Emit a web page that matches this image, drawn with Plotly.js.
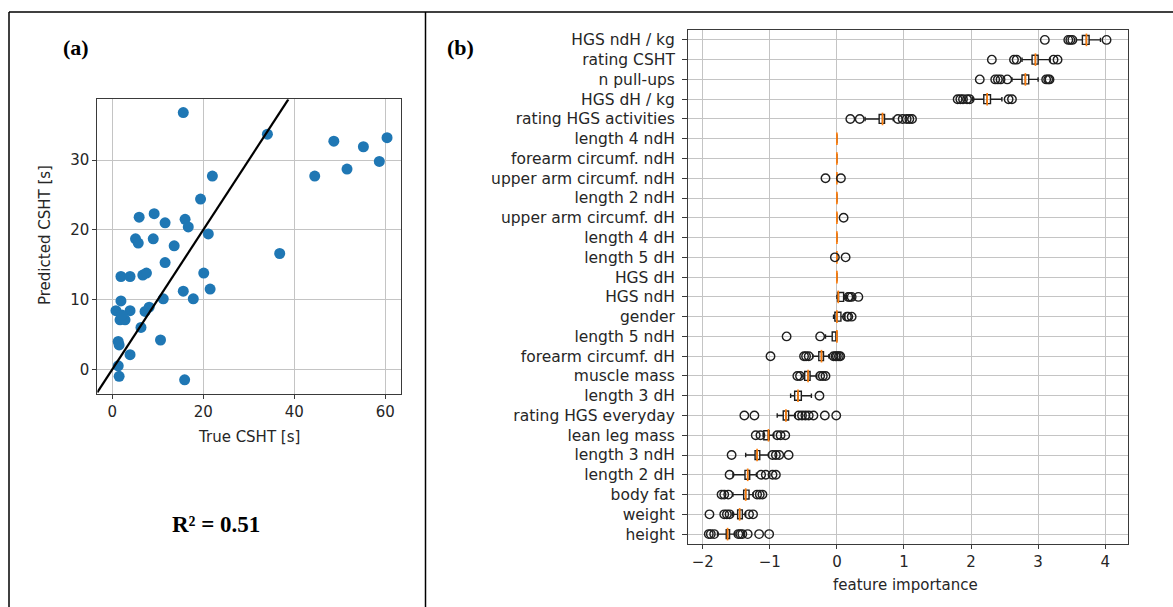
<!DOCTYPE html>
<html>
<head>
<meta charset="utf-8">
<script src="https://cdn.plot.ly/plotly-3.0.1.min.js"></script>
<style>
  html, body { margin: 0; padding: 0; background: #fff; }
  #chart { width: 1173px; height: 607px; }
</style>
</head>
<body>
<div id="chart"></div>
<script>
// ---------- Panel (a): true vs predicted CSHT ----------
const trueCSHT = [15.6, 34.1, 48.7, 60.4, 55.2, 58.7, 51.6, 44.5, 22.0, 19.4,
                  5.9, 9.2, 11.6, 16.0, 16.7, 21.1, 5.1, 5.7, 9.0, 13.6,
                  36.8, 11.6, 1.9, 3.9, 6.7, 7.5, 20.1, 15.6, 21.5, 17.8,
                  11.2, 1.9, 0.8, 3.9, 7.2, 8.1, 1.7, 2.8, 6.3, 1.3,
                  1.5, 10.6, 3.9, 1.3, 1.5, 15.9, 2.1];
const predictedCSHT = [36.8, 33.7, 32.7, 33.2, 31.9, 29.8, 28.7, 27.7, 27.7, 24.4,
                       21.8, 22.3, 21.0, 21.5, 20.4, 19.4, 18.7, 18.1, 18.7, 17.7,
                       16.6, 15.3, 13.3, 13.3, 13.5, 13.8, 13.8, 11.2, 11.5, 10.1,
                       10.1, 9.8, 8.4, 8.4, 8.3, 8.9, 7.1, 7.1, 6.0, 4.0,
                       3.5, 4.2, 2.1, 0.5, -1.0, -1.5, 7.8];
const identityLine = [-3.3, 38.7];
const r2Text = "R² = 0.51";

// ---------- Panel (b): permutation feature importance ----------
const features = ["HGS ndH / kg", "rating CSHT", "n pull-ups", "HGS dH / kg",
  "rating HGS activities", "length 4 ndH", "forearm circumf. ndH",
  "upper arm circumf. ndH", "length 2 ndH", "upper arm circumf. dH",
  "length 4 dH", "length 5 dH", "HGS dH", "HGS ndH", "gender", "length 5 ndH",
  "forearm circumf. dH", "muscle mass", "length 3 dH", "rating HGS everyday",
  "lean leg mass", "length 3 ndH", "length 2 dH", "body fat", "weight", "height"];
const q1Values     = [3.66, 2.91, 2.76, 2.19, 0.63, 0, 0, 0, 0, 0, 0, 0, 0, 0.01, -0.03, -0.07, -0.27, -0.48, -0.63, -0.80, -1.09, -1.22, -1.37, -1.39, -1.48, -1.65];
const medianValues = [3.72, 2.96, 2.81, 2.24, 0.68, 0, 0, 0, 0, 0, 0, 0, 0, 0.02, 0.0, 0, -0.23, -0.43, -0.58, -0.76, -1.02, -1.19, -1.33, -1.36, -1.45, -1.63];
const q3Values     = [3.76, 3.00, 2.86, 2.29, 0.71, 0, 0, 0, 0, 0, 0, 0, 0, 0.10, 0.06, 0, -0.20, -0.40, -0.53, -0.72, -1.01, -1.15, -1.30, -1.31, -1.41, -1.60];
const lowWhisker   = [3.57, 2.76, 2.61, 2.02, 0.42, 0, 0, 0, 0, 0, 0, 0, 0, 0.00, -0.05, -0.17, -0.36, -0.52, -0.69, -0.89, -1.10, -1.36, -1.55, -1.55, -1.56, -1.78];
const highWhisker  = [3.93, 3.18, 3.00, 2.46, 0.84, 0, 0, 0, 0, 0, 0, 0, 0, 0.14, 0.12, 0, -0.12, -0.30, -0.38, -0.62, -0.94, -1.02, -1.20, -1.25, -1.36, -1.52];
const outlierValues = [
  [3.10, 3.45, 3.48, 3.51, 4.02],
  [2.31, 2.64, 2.68, 3.23, 3.29],
  [2.13, 2.36, 2.40, 2.44, 2.54, 3.12, 3.15, 3.17],
  [1.80, 1.84, 1.88, 1.94, 1.98, 2.56, 2.61],
  [0.20, 0.34, 0.91, 0.98, 1.04, 1.08, 1.12],
  [],
  [],
  [-0.17, 0.06],
  [],
  [0.10],
  [],
  [-0.03, 0.13],
  [],
  [0.17, 0.19, 0.22, 0.32],
  [0.15, 0.17, 0.22],
  [-0.75, -0.25],
  [-0.99, -0.49, -0.46, -0.42, -0.05, -0.02, 0.0, 0.03, 0.05],
  [-0.59, -0.55, -0.25, -0.21, -0.17],
  [-0.26],
  [-1.38, -1.23, -0.57, -0.52, -0.47, -0.42, -0.35, -0.18, -0.01],
  [-1.21, -1.14, -0.89, -0.84, -0.77],
  [-1.57, -0.96, -0.91, -0.86, -0.72],
  [-1.60, -1.13, -1.06, -0.96, -0.91],
  [-1.72, -1.68, -1.62, -1.19, -1.15, -1.11],
  [-1.90, -1.68, -1.64, -1.60, -1.31, -1.25],
  [-1.91, -1.88, -1.83, -1.47, -1.44, -1.41, -1.33, -1.16, -1.01]
];

// ---------- geometry helpers (pixels -> paper) ----------
const W = 1173, H = 607;
const px = v => v / W;
const py = v => 1 - v / H;

const outX = [], outY = [];
outlierValues.forEach((arr, i) => arr.forEach(v => { outX.push(v); outY.push(features[i]); }));

const tickFont = { family: "DejaVu Sans, sans-serif", size: 15, color: "#262626" };
const catFont = { family: "DejaVu Sans, sans-serif", size: 15.5, color: "#262626" };
const gridColor = "#c4c4c4";
const spineColor = "#3a3a3a";

const traces = [
  {
    type: "scatter", mode: "markers", x: trueCSHT, y: predictedCSHT,
    xaxis: "x", yaxis: "y",
    marker: { color: "#1f77b4", size: 11, line: { width: 0 } },
    hoverinfo: "x+y", showlegend: false
  },
  {
    type: "scatter", mode: "lines", x: identityLine, y: identityLine,
    xaxis: "x", yaxis: "y",
    line: { color: "#000", width: 2.2 }, showlegend: false
  },
  {
    type: "box", orientation: "h", y: features,
    q1: q1Values, median: medianValues, q3: q3Values,
    lowerfence: lowWhisker, upperfence: highWhisker,
    xaxis: "x2", yaxis: "y2",
    boxpoints: false, width: 0.45, whiskerwidth: 0.5,
    fillcolor: "rgba(0,0,0,0)", line: { color: "#1e1e1e", width: 1.4 },
    showlegend: false
  },
  {
    type: "scatter", mode: "markers", x: medianValues, y: features,
    xaxis: "x2", yaxis: "y2",
    marker: { symbol: "line-ns-open", size: 9, color: "#ff7f0e", line: { color: "#ff7f0e", width: 1.7 } },
    showlegend: false, hoverinfo: "x+y"
  },
  {
    type: "scatter", mode: "markers", x: outX, y: outY,
    xaxis: "x2", yaxis: "y2",
    marker: { symbol: "circle-open", size: 8.5, color: "#1e1e1e", line: { color: "#1e1e1e", width: 1.4 } },
    showlegend: false, hoverinfo: "x+y"
  }
];

const layout = {
  width: W, height: H,
  margin: { l: 0, r: 0, t: 0, b: 0 },
  paper_bgcolor: "#fff", plot_bgcolor: "#fff",
  showlegend: false,
  xaxis: {
    domain: [px(97.3), px(400.7)], anchor: "y",
    range: [-3.3, 63.4], tickvals: [0, 20, 40, 60],
    showgrid: true, gridcolor: gridColor, gridwidth: 1, zeroline: false,
    showline: true, linecolor: spineColor, linewidth: 1, mirror: true,
    ticks: "outside", ticklen: 4, tickcolor: spineColor, tickfont: tickFont
  },
  yaxis: {
    domain: [py(394), py(99.3)], anchor: "x",
    range: [-3.54, 38.7], tickvals: [0, 10, 20, 30],
    showgrid: true, gridcolor: gridColor, gridwidth: 1, zeroline: false,
    showline: true, linecolor: spineColor, linewidth: 1, mirror: true,
    ticks: "outside", ticklen: 4, tickcolor: spineColor, tickfont: tickFont
  },
  xaxis2: {
    domain: [px(688), px(1128)], anchor: "y2",
    range: [-2.22, 4.34], dtick: 1, tick0: 0,
    showgrid: true, gridcolor: gridColor, gridwidth: 1, zeroline: false,
    showline: true, linecolor: spineColor, linewidth: 1, mirror: true,
    ticks: "outside", ticklen: 4, tickcolor: spineColor, tickfont: tickFont
  },
  yaxis2: {
    domain: [py(544), py(30)], anchor: "x2",
    type: "category", categoryorder: "array", categoryarray: features,
    range: [25.5, -0.5],
    showgrid: true, gridcolor: gridColor, gridwidth: 1, zeroline: false,
    showline: true, linecolor: spineColor, linewidth: 1, mirror: true,
    ticks: "outside", ticklen: 5, tickcolor: spineColor, tickfont: catFont,
    ticklabelstandoff: 4
  },
  shapes: [
    { type: "line", xref: "paper", yref: "paper", x0: px(9), x1: 1, y0: py(12), y1: py(12), line: { color: "#000", width: 1.5 } },
    { type: "line", xref: "paper", yref: "paper", x0: px(9), x1: px(9), y0: py(12), y1: 0, line: { color: "#000", width: 1.5 } },
    { type: "line", xref: "paper", yref: "paper", x0: px(425.5), x1: px(425.5), y0: py(12), y1: 0, line: { color: "#000", width: 1.5 } }
  ],
  annotations: [
    { text: "<b>(a)</b>", xref: "paper", yref: "paper", x: px(76), y: py(47), xanchor: "center", yanchor: "middle", showarrow: false,
      font: { family: "Liberation Serif, serif", size: 22, color: "#000" } },
    { text: "<b>(b)</b>", xref: "paper", yref: "paper", x: px(460), y: py(47), xanchor: "center", yanchor: "middle", showarrow: false,
      font: { family: "Liberation Serif, serif", size: 22, color: "#000" } },
    { text: "<b>" + r2Text + "</b>", xref: "paper", yref: "paper", x: px(216), y: py(524), xanchor: "center", yanchor: "middle", showarrow: false,
      font: { family: "Liberation Serif, serif", size: 23, color: "#000" } },
    { text: "Predicted CSHT [s]", xref: "paper", yref: "paper", x: px(45), y: py(235), xanchor: "center", yanchor: "middle", showarrow: false, textangle: -90,
      font: { family: "DejaVu Sans, sans-serif", size: 15, color: "#262626" } },
    { text: "True CSHT [s]", xref: "paper", yref: "paper", x: px(249), y: py(437), xanchor: "center", yanchor: "middle", showarrow: false,
      font: { family: "DejaVu Sans, sans-serif", size: 15, color: "#262626" } },
    { text: "feature importance", xref: "paper", yref: "paper", x: px(905), y: py(585), xanchor: "center", yanchor: "middle", showarrow: false,
      font: { family: "DejaVu Sans, sans-serif", size: 15, color: "#262626" } }
  ]
};

Plotly.newPlot("chart", traces, layout, { displayModeBar: false, staticPlot: true });
</script>
</body>
</html>
